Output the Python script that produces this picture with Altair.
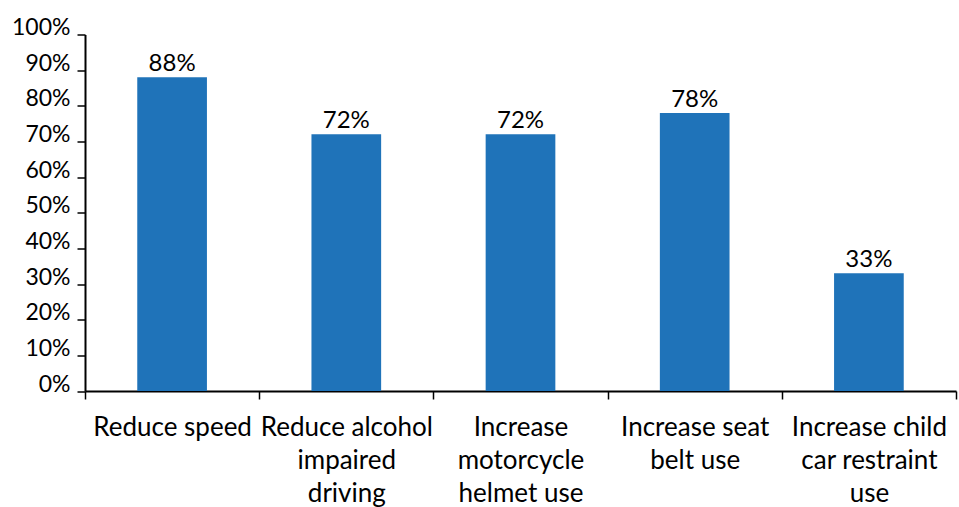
import altair as alt
import pandas as pd

categories = [
    "Reduce speed",
    "Reduce alcohol impaired driving",
    "Increase motorcycle helmet use",
    "Increase seat belt use",
    "Increase child car restraint use",
]
label_lines = [
    "Reduce speed",
    "Reduce alcohol|impaired|driving",
    "Increase|motorcycle|helmet use",
    "Increase seat|belt use",
    "Increase child|car restraint|use",
]
values = [0.88, 0.72, 0.72, 0.78, 0.33]
y_ticks = [0, 0.1, 0.2, 0.3, 0.4, 0.5, 0.6, 0.7, 0.8, 0.9, 1.0]

df = pd.DataFrame({"category": categories, "value": values})

label_map = "{" + ",".join(f"'{c}': '{l}'" for c, l in zip(categories, label_lines)) + "}"

FONT = "Lato"
BLUE = "#1f73b9"

x = alt.X(
    "category:N",
    sort=categories,
    scale=alt.Scale(paddingInner=0, paddingOuter=0),
    axis=alt.Axis(
        title=None,
        labelAngle=0,
        tickBand="extent",
        tickSize=8,
        tickColor="black",
        tickWidth=1.5,
        domainColor="black",
        domainWidth=2,
        labelFont=FONT,
        labelFontSize=26,
        labelColor="black",
        labelPadding=15,
        labelLineHeight=33,
        labelBaseline="top",
        labelOverlap=False,
        labelExpr=f"isValid({label_map}[datum.value]) ? split({label_map}[datum.value], '|') : ''",
    ),
)

y = alt.Y(
    "value:Q",
    scale=alt.Scale(domain=[0, 1]),
    axis=alt.Axis(
        title=None,
        format=".0%",
        values=y_ticks,
        tickSize=8,
        tickColor="black",
        tickWidth=1.5,
        domainColor="black",
        domainWidth=2,
        grid=False,
        labelOverlap=False,
        labelFont=FONT,
        labelFontSize=23,
        labelColor="black",
        labelPadding=7,
        labelBaseline="alphabetic",
        labelBound=False,
        labelFlush=False,
    ),
)

base = alt.Chart(df).encode(x=x, y=y)

bars = base.mark_bar(color=BLUE, width=alt.RelativeBandSize(0.4))

text = base.mark_text(
    font=FONT, fontSize=24, color="black", baseline="alphabetic", dy=-6
).encode(text=alt.Text("value:Q", format=".0%"))

chart = (
    (bars + text)
    .properties(
        width=871,
        height=356.5,
        autosize=alt.AutoSizeParams(type="none"),
        padding={"left": 85, "top": 34.5, "right": 3, "bottom": 116},
        background="white",
    )
    .configure_view(stroke=None)
)

chart.save("out.html", embed_options={"renderer": "svg", "actions": False})
